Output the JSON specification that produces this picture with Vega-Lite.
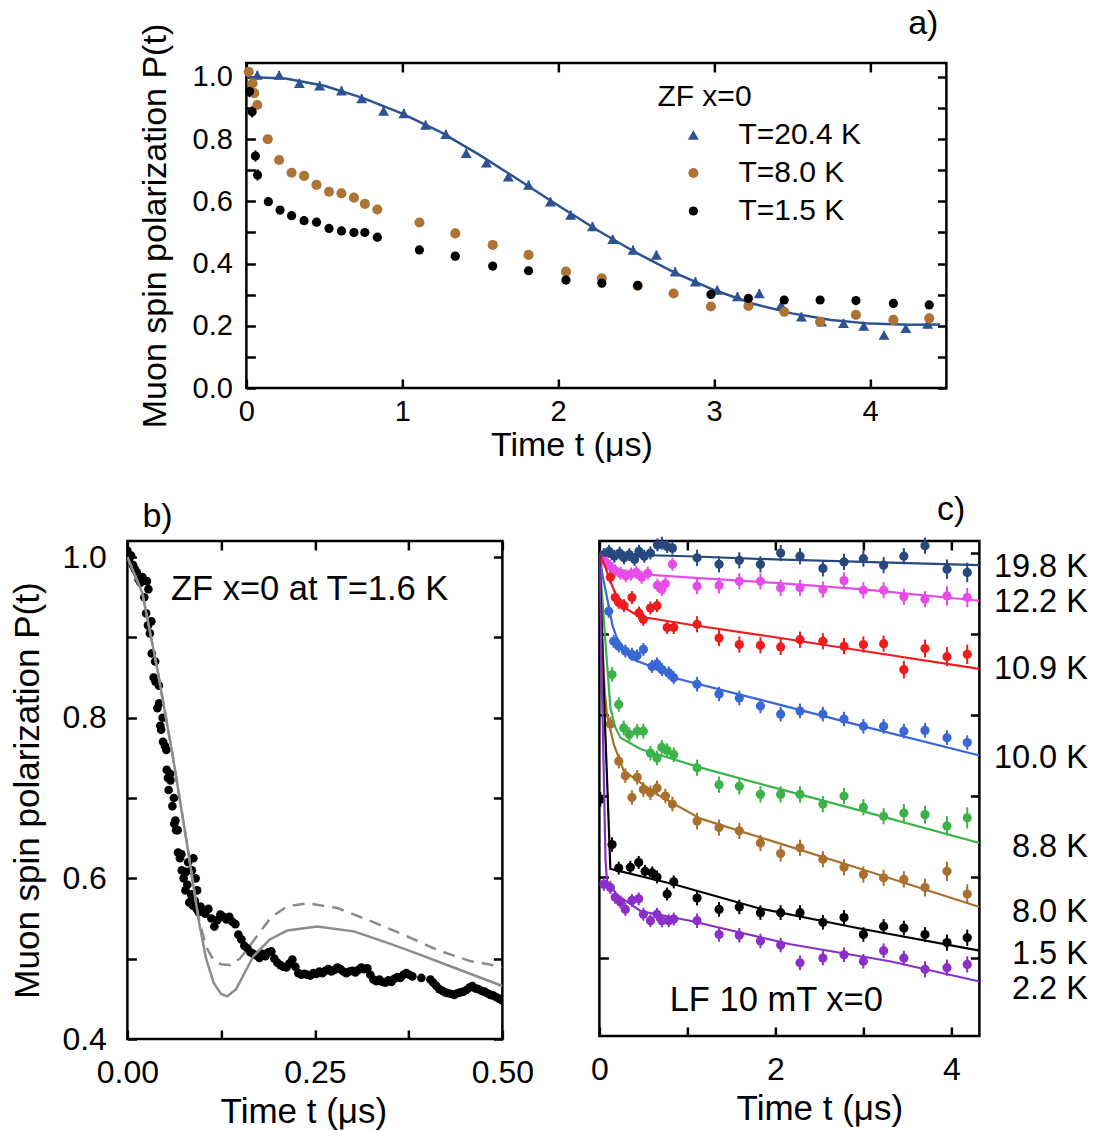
{
  "$schema": "https://vega.github.io/schema/vega-lite/v6.json",
  "autosize": {"type": "pad"},
  "padding": {"left": 9, "top": 6, "right": 4, "bottom": 2},
  "background": "white",
  "datasets": {
    "a_pts": [
      {"series": "T=20.4 K", "t": 0.07, "P": 1.006, "err": 0.014},
      {"series": "T=20.4 K", "t": 0.21, "P": 1.006, "err": 0.014},
      {"series": "T=20.4 K", "t": 0.34, "P": 0.98, "err": 0.014},
      {"series": "T=20.4 K", "t": 0.47, "P": 0.972, "err": 0.014},
      {"series": "T=20.4 K", "t": 0.61, "P": 0.956, "err": 0.014},
      {"series": "T=20.4 K", "t": 0.74, "P": 0.931, "err": 0.014},
      {"series": "T=20.4 K", "t": 0.88, "P": 0.891, "err": 0.014},
      {"series": "T=20.4 K", "t": 1.01, "P": 0.883, "err": 0.014},
      {"series": "T=20.4 K", "t": 1.15, "P": 0.846, "err": 0.014},
      {"series": "T=20.4 K", "t": 1.28, "P": 0.816, "err": 0.014},
      {"series": "T=20.4 K", "t": 1.41, "P": 0.755, "err": 0.014},
      {"series": "T=20.4 K", "t": 1.54, "P": 0.724, "err": 0.014},
      {"series": "T=20.4 K", "t": 1.68, "P": 0.679, "err": 0.014},
      {"series": "T=20.4 K", "t": 1.81, "P": 0.653, "err": 0.014},
      {"series": "T=20.4 K", "t": 1.95, "P": 0.599, "err": 0.014},
      {"series": "T=20.4 K", "t": 2.08, "P": 0.556, "err": 0.014},
      {"series": "T=20.4 K", "t": 2.22, "P": 0.519, "err": 0.014},
      {"series": "T=20.4 K", "t": 2.35, "P": 0.478, "err": 0.014},
      {"series": "T=20.4 K", "t": 2.48, "P": 0.444, "err": 0.014},
      {"series": "T=20.4 K", "t": 2.63, "P": 0.428, "err": 0.014},
      {"series": "T=20.4 K", "t": 2.75, "P": 0.374, "err": 0.014},
      {"series": "T=20.4 K", "t": 2.88, "P": 0.342, "err": 0.014},
      {"series": "T=20.4 K", "t": 3.02, "P": 0.315, "err": 0.014},
      {"series": "T=20.4 K", "t": 3.15, "P": 0.294, "err": 0.014},
      {"series": "T=20.4 K", "t": 3.29, "P": 0.304, "err": 0.014},
      {"series": "T=20.4 K", "t": 3.43, "P": 0.267, "err": 0.014},
      {"series": "T=20.4 K", "t": 3.56, "P": 0.229, "err": 0.014},
      {"series": "T=20.4 K", "t": 3.69, "P": 0.213, "err": 0.014},
      {"series": "T=20.4 K", "t": 3.83, "P": 0.208, "err": 0.014},
      {"series": "T=20.4 K", "t": 3.96, "P": 0.199, "err": 0.014},
      {"series": "T=20.4 K", "t": 4.09, "P": 0.17, "err": 0.014},
      {"series": "T=20.4 K", "t": 4.23, "P": 0.192, "err": 0.014},
      {"series": "T=20.4 K", "t": 4.37, "P": 0.206, "err": 0.014},
      {"series": "T=8.0 K", "t": 0.015, "P": 1.017, "err": 0.015},
      {"series": "T=8.0 K", "t": 0.04, "P": 0.98, "err": 0.015},
      {"series": "T=8.0 K", "t": 0.05, "P": 0.948, "err": 0.015},
      {"series": "T=8.0 K", "t": 0.07, "P": 0.91, "err": 0.015},
      {"series": "T=8.0 K", "t": 0.137, "P": 0.8, "err": 0.013},
      {"series": "T=8.0 K", "t": 0.21, "P": 0.733, "err": 0.013},
      {"series": "T=8.0 K", "t": 0.29, "P": 0.692, "err": 0.013},
      {"series": "T=8.0 K", "t": 0.37, "P": 0.682, "err": 0.013},
      {"series": "T=8.0 K", "t": 0.45, "P": 0.653, "err": 0.013},
      {"series": "T=8.0 K", "t": 0.53, "P": 0.631, "err": 0.013},
      {"series": "T=8.0 K", "t": 0.61, "P": 0.626, "err": 0.013},
      {"series": "T=8.0 K", "t": 0.69, "P": 0.612, "err": 0.013},
      {"series": "T=8.0 K", "t": 0.76, "P": 0.592, "err": 0.013},
      {"series": "T=8.0 K", "t": 0.84, "P": 0.574, "err": 0.013},
      {"series": "T=8.0 K", "t": 1.11, "P": 0.532, "err": 0.013},
      {"series": "T=8.0 K", "t": 1.34, "P": 0.497, "err": 0.013},
      {"series": "T=8.0 K", "t": 1.58, "P": 0.46, "err": 0.013},
      {"series": "T=8.0 K", "t": 1.81, "P": 0.428, "err": 0.013},
      {"series": "T=8.0 K", "t": 2.05, "P": 0.374, "err": 0.013},
      {"series": "T=8.0 K", "t": 2.28, "P": 0.353, "err": 0.013},
      {"series": "T=8.0 K", "t": 2.51, "P": 0.328, "err": 0.013},
      {"series": "T=8.0 K", "t": 2.74, "P": 0.304, "err": 0.013},
      {"series": "T=8.0 K", "t": 2.98, "P": 0.262, "err": 0.013},
      {"series": "T=8.0 K", "t": 3.22, "P": 0.264, "err": 0.013},
      {"series": "T=8.0 K", "t": 3.45, "P": 0.245, "err": 0.013},
      {"series": "T=8.0 K", "t": 3.68, "P": 0.213, "err": 0.013},
      {"series": "T=8.0 K", "t": 3.91, "P": 0.235, "err": 0.013},
      {"series": "T=8.0 K", "t": 4.15, "P": 0.219, "err": 0.013},
      {"series": "T=8.0 K", "t": 4.38, "P": 0.224, "err": 0.013},
      {"series": "T=1.5 K", "t": 0.02, "P": 0.953, "err": 0.018},
      {"series": "T=1.5 K", "t": 0.037, "P": 0.888, "err": 0.018},
      {"series": "T=1.5 K", "t": 0.058, "P": 0.746, "err": 0.018},
      {"series": "T=1.5 K", "t": 0.072, "P": 0.685, "err": 0.018},
      {"series": "T=1.5 K", "t": 0.141, "P": 0.599, "err": 0.013},
      {"series": "T=1.5 K", "t": 0.216, "P": 0.572, "err": 0.013},
      {"series": "T=1.5 K", "t": 0.29, "P": 0.554, "err": 0.013},
      {"series": "T=1.5 K", "t": 0.37, "P": 0.538, "err": 0.013},
      {"series": "T=1.5 K", "t": 0.45, "P": 0.533, "err": 0.013},
      {"series": "T=1.5 K", "t": 0.53, "P": 0.513, "err": 0.013},
      {"series": "T=1.5 K", "t": 0.61, "P": 0.505, "err": 0.013},
      {"series": "T=1.5 K", "t": 0.69, "P": 0.5, "err": 0.013},
      {"series": "T=1.5 K", "t": 0.76, "P": 0.5, "err": 0.013},
      {"series": "T=1.5 K", "t": 0.84, "P": 0.485, "err": 0.013},
      {"series": "T=1.5 K", "t": 1.11, "P": 0.444, "err": 0.013},
      {"series": "T=1.5 K", "t": 1.34, "P": 0.424, "err": 0.013},
      {"series": "T=1.5 K", "t": 1.58, "P": 0.392, "err": 0.013},
      {"series": "T=1.5 K", "t": 1.81, "P": 0.377, "err": 0.013},
      {"series": "T=1.5 K", "t": 2.05, "P": 0.347, "err": 0.013},
      {"series": "T=1.5 K", "t": 2.28, "P": 0.337, "err": 0.013},
      {"series": "T=1.5 K", "t": 2.51, "P": 0.33, "err": 0.013},
      {"series": "T=1.5 K", "t": 2.98, "P": 0.301, "err": 0.013},
      {"series": "T=1.5 K", "t": 3.22, "P": 0.288, "err": 0.013},
      {"series": "T=1.5 K", "t": 3.45, "P": 0.283, "err": 0.013},
      {"series": "T=1.5 K", "t": 3.68, "P": 0.283, "err": 0.013},
      {"series": "T=1.5 K", "t": 3.91, "P": 0.281, "err": 0.013},
      {"series": "T=1.5 K", "t": 4.15, "P": 0.272, "err": 0.013},
      {"series": "T=1.5 K", "t": 4.38, "P": 0.267, "err": 0.013}
    ],
    "a_fit": [
      {"t": 0, "P": 1.0}, {"t": 0.25, "P": 0.995}, {"t": 0.5, "P": 0.972}, {"t": 0.75, "P": 0.932},
      {"t": 1.0, "P": 0.882}, {"t": 1.25, "P": 0.822}, {"t": 1.5, "P": 0.748}, {"t": 1.75, "P": 0.668},
      {"t": 2.0, "P": 0.587}, {"t": 2.25, "P": 0.508}, {"t": 2.5, "P": 0.435}, {"t": 2.75, "P": 0.37},
      {"t": 3.0, "P": 0.315}, {"t": 3.25, "P": 0.271}, {"t": 3.5, "P": 0.24}, {"t": 3.75, "P": 0.219},
      {"t": 4.0, "P": 0.207}, {"t": 4.25, "P": 0.203}, {"t": 4.45, "P": 0.204}
    ],
    "b_pts": [
      {"t": 0.0, "P": 1.008}, {"t": 0.0025, "P": 0.998}, {"t": 0.005, "P": 1.002}, {"t": 0.0075, "P": 0.99},
      {"t": 0.01, "P": 0.985}, {"t": 0.0125, "P": 0.981}, {"t": 0.015, "P": 0.972}, {"t": 0.0175, "P": 0.968},
      {"t": 0.02, "P": 0.975}, {"t": 0.0225, "P": 0.95}, {"t": 0.025, "P": 0.93}, {"t": 0.026, "P": 0.97},
      {"t": 0.0275, "P": 0.915}, {"t": 0.028, "P": 0.96}, {"t": 0.03, "P": 0.905}, {"t": 0.032, "P": 0.92},
      {"t": 0.0325, "P": 0.88}, {"t": 0.035, "P": 0.85}, {"t": 0.037, "P": 0.87}, {"t": 0.0375, "P": 0.845},
      {"t": 0.04, "P": 0.812}, {"t": 0.042, "P": 0.84}, {"t": 0.0425, "P": 0.818}, {"t": 0.044, "P": 0.79},
      {"t": 0.045, "P": 0.785}, {"t": 0.047, "P": 0.8}, {"t": 0.0475, "P": 0.77}, {"t": 0.05, "P": 0.765},
      {"t": 0.052, "P": 0.76}, {"t": 0.0525, "P": 0.735}, {"t": 0.054, "P": 0.725}, {"t": 0.055, "P": 0.71},
      {"t": 0.057, "P": 0.73}, {"t": 0.0575, "P": 0.722}, {"t": 0.06, "P": 0.69}, {"t": 0.062, "P": 0.7},
      {"t": 0.0625, "P": 0.668}, {"t": 0.064, "P": 0.672}, {"t": 0.065, "P": 0.66}, {"t": 0.067, "P": 0.66},
      {"t": 0.0675, "P": 0.632}, {"t": 0.07, "P": 0.625}, {"t": 0.072, "P": 0.63}, {"t": 0.0725, "P": 0.61},
      {"t": 0.075, "P": 0.6}, {"t": 0.0775, "P": 0.585}, {"t": 0.078, "P": 0.608}, {"t": 0.08, "P": 0.592},
      {"t": 0.081, "P": 0.62}, {"t": 0.0825, "P": 0.57}, {"t": 0.085, "P": 0.58}, {"t": 0.086, "P": 0.61},
      {"t": 0.0875, "P": 0.566}, {"t": 0.088, "P": 0.625}, {"t": 0.09, "P": 0.572}, {"t": 0.091, "P": 0.6},
      {"t": 0.0925, "P": 0.562}, {"t": 0.093, "P": 0.585}, {"t": 0.095, "P": 0.558}, {"t": 0.0975, "P": 0.565},
      {"t": 0.1, "P": 0.56}, {"t": 0.104, "P": 0.556}, {"t": 0.108, "P": 0.562}, {"t": 0.112, "P": 0.55},
      {"t": 0.116, "P": 0.54}, {"t": 0.12, "P": 0.548}, {"t": 0.124, "P": 0.555}, {"t": 0.128, "P": 0.552},
      {"t": 0.132, "P": 0.549}, {"t": 0.136, "P": 0.552}, {"t": 0.14, "P": 0.546}, {"t": 0.144, "P": 0.543},
      {"t": 0.148, "P": 0.53}, {"t": 0.152, "P": 0.524}, {"t": 0.156, "P": 0.516}, {"t": 0.16, "P": 0.513},
      {"t": 0.164, "P": 0.508}, {"t": 0.168, "P": 0.506}, {"t": 0.172, "P": 0.504}, {"t": 0.176, "P": 0.501},
      {"t": 0.18, "P": 0.506}, {"t": 0.184, "P": 0.503}, {"t": 0.188, "P": 0.508}, {"t": 0.192, "P": 0.509},
      {"t": 0.196, "P": 0.5}, {"t": 0.2, "P": 0.495}, {"t": 0.204, "P": 0.492}, {"t": 0.208, "P": 0.49},
      {"t": 0.212, "P": 0.489}, {"t": 0.216, "P": 0.494}, {"t": 0.22, "P": 0.499}, {"t": 0.224, "P": 0.49},
      {"t": 0.228, "P": 0.482}, {"t": 0.232, "P": 0.48}, {"t": 0.236, "P": 0.481}, {"t": 0.24, "P": 0.48},
      {"t": 0.244, "P": 0.479}, {"t": 0.248, "P": 0.482}, {"t": 0.252, "P": 0.481}, {"t": 0.256, "P": 0.484},
      {"t": 0.26, "P": 0.482}, {"t": 0.264, "P": 0.485}, {"t": 0.268, "P": 0.487}, {"t": 0.272, "P": 0.484},
      {"t": 0.276, "P": 0.486}, {"t": 0.28, "P": 0.489}, {"t": 0.284, "P": 0.487}, {"t": 0.288, "P": 0.484},
      {"t": 0.292, "P": 0.482}, {"t": 0.296, "P": 0.484}, {"t": 0.3, "P": 0.485}, {"t": 0.304, "P": 0.483},
      {"t": 0.308, "P": 0.486}, {"t": 0.312, "P": 0.489}, {"t": 0.316, "P": 0.487}, {"t": 0.32, "P": 0.488},
      {"t": 0.324, "P": 0.48}, {"t": 0.328, "P": 0.474}, {"t": 0.332, "P": 0.472}, {"t": 0.336, "P": 0.474},
      {"t": 0.34, "P": 0.471}, {"t": 0.344, "P": 0.47}, {"t": 0.348, "P": 0.473}, {"t": 0.352, "P": 0.471},
      {"t": 0.356, "P": 0.475}, {"t": 0.36, "P": 0.477}, {"t": 0.364, "P": 0.476}, {"t": 0.368, "P": 0.48},
      {"t": 0.372, "P": 0.482}, {"t": 0.376, "P": 0.48}, {"t": 0.38, "P": 0.478}, {"t": 0.392, "P": 0.476},
      {"t": 0.404, "P": 0.474}, {"t": 0.408, "P": 0.47}, {"t": 0.412, "P": 0.466}, {"t": 0.416, "P": 0.462},
      {"t": 0.42, "P": 0.46}, {"t": 0.424, "P": 0.458}, {"t": 0.428, "P": 0.457}, {"t": 0.432, "P": 0.456},
      {"t": 0.436, "P": 0.455}, {"t": 0.44, "P": 0.457}, {"t": 0.444, "P": 0.458}, {"t": 0.448, "P": 0.459},
      {"t": 0.452, "P": 0.461}, {"t": 0.456, "P": 0.464}, {"t": 0.46, "P": 0.466}, {"t": 0.464, "P": 0.463},
      {"t": 0.468, "P": 0.462}, {"t": 0.472, "P": 0.46}, {"t": 0.476, "P": 0.459}, {"t": 0.48, "P": 0.457},
      {"t": 0.484, "P": 0.455}, {"t": 0.488, "P": 0.454}, {"t": 0.492, "P": 0.452}, {"t": 0.496, "P": 0.45},
      {"t": 0.5, "P": 0.448}
    ],
    "b_fit": [
      {"model": "solid", "t": 0, "P": 1.0}, {"model": "solid", "t": 0.02, "P": 0.955},
      {"model": "solid", "t": 0.04, "P": 0.86}, {"model": "solid", "t": 0.06, "P": 0.755},
      {"model": "solid", "t": 0.08, "P": 0.64}, {"model": "solid", "t": 0.095, "P": 0.548},
      {"model": "solid", "t": 0.105, "P": 0.5}, {"model": "solid", "t": 0.115, "P": 0.47},
      {"model": "solid", "t": 0.125, "P": 0.456}, {"model": "solid", "t": 0.133, "P": 0.453},
      {"model": "solid", "t": 0.145, "P": 0.462}, {"model": "solid", "t": 0.155, "P": 0.48},
      {"model": "solid", "t": 0.168, "P": 0.503}, {"model": "solid", "t": 0.19, "P": 0.524},
      {"model": "solid", "t": 0.213, "P": 0.535}, {"model": "solid", "t": 0.253, "P": 0.54},
      {"model": "solid", "t": 0.302, "P": 0.534}, {"model": "solid", "t": 0.346, "P": 0.52},
      {"model": "solid", "t": 0.39, "P": 0.505}, {"model": "solid", "t": 0.435, "P": 0.489},
      {"model": "solid", "t": 0.5, "P": 0.466},
      {"model": "dashed", "t": 0, "P": 1.0}, {"model": "dashed", "t": 0.02, "P": 0.955},
      {"model": "dashed", "t": 0.04, "P": 0.86}, {"model": "dashed", "t": 0.06, "P": 0.755},
      {"model": "dashed", "t": 0.08, "P": 0.64}, {"model": "dashed", "t": 0.095, "P": 0.55},
      {"model": "dashed", "t": 0.105, "P": 0.515}, {"model": "dashed", "t": 0.115, "P": 0.498},
      {"model": "dashed", "t": 0.125, "P": 0.493}, {"model": "dashed", "t": 0.137, "P": 0.492},
      {"model": "dashed", "t": 0.15, "P": 0.5}, {"model": "dashed", "t": 0.168, "P": 0.522},
      {"model": "dashed", "t": 0.191, "P": 0.551}, {"model": "dashed", "t": 0.213, "P": 0.565},
      {"model": "dashed", "t": 0.24, "P": 0.569}, {"model": "dashed", "t": 0.28, "P": 0.563},
      {"model": "dashed", "t": 0.324, "P": 0.547}, {"model": "dashed", "t": 0.368, "P": 0.53},
      {"model": "dashed", "t": 0.413, "P": 0.511}, {"model": "dashed", "t": 0.457, "P": 0.497},
      {"model": "dashed", "t": 0.5, "P": 0.49}
    ],
    "b_note": [{"t": 0.243, "P": 0.959, "label": "ZF x=0 at T=1.6 K"}],
    "c_note": [{"t": 2.01, "P": 0.447, "label": "LF 10 mT x=0"}],
    "c_pts": [
      {"T": "19.8 K", "t": 0.05, "P": 0.998, "err": 0.008}, {"T": "19.8 K", "t": 0.11, "P": 1.002, "err": 0.008},
      {"T": "19.8 K", "t": 0.17, "P": 0.996, "err": 0.008}, {"T": "19.8 K", "t": 0.23, "P": 1.0, "err": 0.008},
      {"T": "19.8 K", "t": 0.28, "P": 0.994, "err": 0.008}, {"T": "19.8 K", "t": 0.34, "P": 0.998, "err": 0.008},
      {"T": "19.8 K", "t": 0.4, "P": 0.992, "err": 0.008}, {"T": "19.8 K", "t": 0.45, "P": 1.002, "err": 0.008},
      {"T": "19.8 K", "t": 0.51, "P": 0.996, "err": 0.008}, {"T": "19.8 K", "t": 0.58, "P": 1.0, "err": 0.008},
      {"T": "19.8 K", "t": 0.66, "P": 1.01, "err": 0.008}, {"T": "19.8 K", "t": 0.71, "P": 1.012, "err": 0.008},
      {"T": "19.8 K", "t": 0.77, "P": 1.008, "err": 0.008}, {"T": "19.8 K", "t": 0.83, "P": 1.006, "err": 0.008},
      {"T": "19.8 K", "t": 1.11, "P": 0.994, "err": 0.01}, {"T": "19.8 K", "t": 1.36, "P": 0.986, "err": 0.01},
      {"T": "19.8 K", "t": 1.59, "P": 0.991, "err": 0.01}, {"T": "19.8 K", "t": 1.83, "P": 0.986, "err": 0.01},
      {"T": "19.8 K", "t": 2.06, "P": 1.0, "err": 0.01}, {"T": "19.8 K", "t": 2.28, "P": 0.996, "err": 0.01},
      {"T": "19.8 K", "t": 2.54, "P": 0.981, "err": 0.01}, {"T": "19.8 K", "t": 2.78, "P": 0.989, "err": 0.01},
      {"T": "19.8 K", "t": 3.0, "P": 0.993, "err": 0.01}, {"T": "19.8 K", "t": 3.23, "P": 0.985, "err": 0.01},
      {"T": "19.8 K", "t": 3.46, "P": 0.996, "err": 0.01}, {"T": "19.8 K", "t": 3.7, "P": 1.009, "err": 0.01},
      {"T": "19.8 K", "t": 3.95, "P": 0.98, "err": 0.012}, {"T": "19.8 K", "t": 4.18, "P": 0.976, "err": 0.012},
      {"T": "12.2 K", "t": 0.06, "P": 0.99, "err": 0.008}, {"T": "12.2 K", "t": 0.12, "P": 0.984, "err": 0.008},
      {"T": "12.2 K", "t": 0.18, "P": 0.978, "err": 0.008}, {"T": "12.2 K", "t": 0.24, "P": 0.975, "err": 0.008},
      {"T": "12.2 K", "t": 0.3, "P": 0.972, "err": 0.008}, {"T": "12.2 K", "t": 0.36, "P": 0.974, "err": 0.008},
      {"T": "12.2 K", "t": 0.42, "P": 0.976, "err": 0.008}, {"T": "12.2 K", "t": 0.48, "P": 0.97, "err": 0.008},
      {"T": "12.2 K", "t": 0.55, "P": 0.975, "err": 0.008}, {"T": "12.2 K", "t": 0.66, "P": 0.96, "err": 0.008},
      {"T": "12.2 K", "t": 0.71, "P": 0.955, "err": 0.008}, {"T": "12.2 K", "t": 0.75, "P": 0.962, "err": 0.008},
      {"T": "12.2 K", "t": 0.83, "P": 0.986, "err": 0.008}, {"T": "12.2 K", "t": 1.11, "P": 0.959, "err": 0.01},
      {"T": "12.2 K", "t": 1.36, "P": 0.96, "err": 0.01}, {"T": "12.2 K", "t": 1.59, "P": 0.965, "err": 0.01},
      {"T": "12.2 K", "t": 1.83, "P": 0.965, "err": 0.01}, {"T": "12.2 K", "t": 2.06, "P": 0.957, "err": 0.01},
      {"T": "12.2 K", "t": 2.28, "P": 0.957, "err": 0.01}, {"T": "12.2 K", "t": 2.54, "P": 0.955, "err": 0.01},
      {"T": "12.2 K", "t": 2.78, "P": 0.966, "err": 0.01}, {"T": "12.2 K", "t": 3.0, "P": 0.954, "err": 0.01},
      {"T": "12.2 K", "t": 3.23, "P": 0.954, "err": 0.01}, {"T": "12.2 K", "t": 3.46, "P": 0.946, "err": 0.01},
      {"T": "12.2 K", "t": 3.7, "P": 0.943, "err": 0.01}, {"T": "12.2 K", "t": 3.95, "P": 0.947, "err": 0.012},
      {"T": "12.2 K", "t": 4.18, "P": 0.945, "err": 0.012},
      {"T": "10.9 K", "t": 0.125, "P": 0.97, "err": 0.008}, {"T": "10.9 K", "t": 0.18, "P": 0.945, "err": 0.008},
      {"T": "10.9 K", "t": 0.22, "P": 0.939, "err": 0.008}, {"T": "10.9 K", "t": 0.28, "P": 0.935, "err": 0.008},
      {"T": "10.9 K", "t": 0.37, "P": 0.945, "err": 0.008}, {"T": "10.9 K", "t": 0.45, "P": 0.926, "err": 0.008},
      {"T": "10.9 K", "t": 0.5, "P": 0.918, "err": 0.008}, {"T": "10.9 K", "t": 0.58, "P": 0.932, "err": 0.008},
      {"T": "10.9 K", "t": 0.655, "P": 0.935, "err": 0.008}, {"T": "10.9 K", "t": 0.77, "P": 0.908, "err": 0.008},
      {"T": "10.9 K", "t": 0.845, "P": 0.908, "err": 0.008}, {"T": "10.9 K", "t": 1.11, "P": 0.912, "err": 0.01},
      {"T": "10.9 K", "t": 1.36, "P": 0.895, "err": 0.01}, {"T": "10.9 K", "t": 1.59, "P": 0.887, "err": 0.01},
      {"T": "10.9 K", "t": 1.83, "P": 0.886, "err": 0.01}, {"T": "10.9 K", "t": 2.06, "P": 0.884, "err": 0.01},
      {"T": "10.9 K", "t": 2.28, "P": 0.893, "err": 0.01}, {"T": "10.9 K", "t": 2.54, "P": 0.891, "err": 0.01},
      {"T": "10.9 K", "t": 2.78, "P": 0.885, "err": 0.01}, {"T": "10.9 K", "t": 3.0, "P": 0.887, "err": 0.01},
      {"T": "10.9 K", "t": 3.23, "P": 0.888, "err": 0.01}, {"T": "10.9 K", "t": 3.46, "P": 0.856, "err": 0.011},
      {"T": "10.9 K", "t": 3.7, "P": 0.882, "err": 0.011}, {"T": "10.9 K", "t": 3.95, "P": 0.872, "err": 0.012},
      {"T": "10.9 K", "t": 4.18, "P": 0.875, "err": 0.012},
      {"T": "10.0 K", "t": 0.106, "P": 0.928, "err": 0.008}, {"T": "10.0 K", "t": 0.163, "P": 0.891, "err": 0.008},
      {"T": "10.0 K", "t": 0.22, "P": 0.885, "err": 0.008}, {"T": "10.0 K", "t": 0.295, "P": 0.879, "err": 0.008},
      {"T": "10.0 K", "t": 0.37, "P": 0.875, "err": 0.008}, {"T": "10.0 K", "t": 0.428, "P": 0.873, "err": 0.008},
      {"T": "10.0 K", "t": 0.5, "P": 0.881, "err": 0.008}, {"T": "10.0 K", "t": 0.598, "P": 0.86, "err": 0.008},
      {"T": "10.0 K", "t": 0.655, "P": 0.863, "err": 0.008}, {"T": "10.0 K", "t": 0.712, "P": 0.856, "err": 0.008},
      {"T": "10.0 K", "t": 0.788, "P": 0.852, "err": 0.008}, {"T": "10.0 K", "t": 0.845, "P": 0.846, "err": 0.008},
      {"T": "10.0 K", "t": 1.11, "P": 0.838, "err": 0.009}, {"T": "10.0 K", "t": 1.36, "P": 0.826, "err": 0.009},
      {"T": "10.0 K", "t": 1.59, "P": 0.821, "err": 0.009}, {"T": "10.0 K", "t": 1.83, "P": 0.811, "err": 0.009},
      {"T": "10.0 K", "t": 2.06, "P": 0.801, "err": 0.009}, {"T": "10.0 K", "t": 2.28, "P": 0.805, "err": 0.009},
      {"T": "10.0 K", "t": 2.54, "P": 0.801, "err": 0.009}, {"T": "10.0 K", "t": 2.78, "P": 0.795, "err": 0.009},
      {"T": "10.0 K", "t": 3.0, "P": 0.786, "err": 0.009}, {"T": "10.0 K", "t": 3.23, "P": 0.786, "err": 0.009},
      {"T": "10.0 K", "t": 3.46, "P": 0.78, "err": 0.009}, {"T": "10.0 K", "t": 3.7, "P": 0.781, "err": 0.009},
      {"T": "10.0 K", "t": 3.95, "P": 0.772, "err": 0.009}, {"T": "10.0 K", "t": 4.18, "P": 0.766, "err": 0.009},
      {"T": "8.8 K", "t": 0.144, "P": 0.85, "err": 0.009}, {"T": "8.8 K", "t": 0.22, "P": 0.813, "err": 0.009},
      {"T": "8.8 K", "t": 0.277, "P": 0.784, "err": 0.009}, {"T": "8.8 K", "t": 0.34, "P": 0.776, "err": 0.009},
      {"T": "8.8 K", "t": 0.43, "P": 0.78, "err": 0.009}, {"T": "8.8 K", "t": 0.5, "P": 0.78, "err": 0.009},
      {"T": "8.8 K", "t": 0.58, "P": 0.753, "err": 0.009}, {"T": "8.8 K", "t": 0.655, "P": 0.747, "err": 0.009},
      {"T": "8.8 K", "t": 0.71, "P": 0.76, "err": 0.009}, {"T": "8.8 K", "t": 0.77, "P": 0.756, "err": 0.009},
      {"T": "8.8 K", "t": 0.845, "P": 0.751, "err": 0.009}, {"T": "8.8 K", "t": 1.11, "P": 0.735, "err": 0.01},
      {"T": "8.8 K", "t": 1.36, "P": 0.714, "err": 0.01}, {"T": "8.8 K", "t": 1.59, "P": 0.712, "err": 0.01},
      {"T": "8.8 K", "t": 1.83, "P": 0.702, "err": 0.01}, {"T": "8.8 K", "t": 2.06, "P": 0.702, "err": 0.01},
      {"T": "8.8 K", "t": 2.28, "P": 0.702, "err": 0.01}, {"T": "8.8 K", "t": 2.54, "P": 0.69, "err": 0.01},
      {"T": "8.8 K", "t": 2.78, "P": 0.7, "err": 0.01}, {"T": "8.8 K", "t": 3.0, "P": 0.686, "err": 0.01},
      {"T": "8.8 K", "t": 3.23, "P": 0.675, "err": 0.01}, {"T": "8.8 K", "t": 3.46, "P": 0.679, "err": 0.011},
      {"T": "8.8 K", "t": 3.7, "P": 0.677, "err": 0.011}, {"T": "8.8 K", "t": 3.95, "P": 0.663, "err": 0.012},
      {"T": "8.8 K", "t": 4.18, "P": 0.673, "err": 0.013},
      {"T": "8.0 K", "t": 0.125, "P": 0.789, "err": 0.009}, {"T": "8.0 K", "t": 0.22, "P": 0.743, "err": 0.009},
      {"T": "8.0 K", "t": 0.295, "P": 0.725, "err": 0.009}, {"T": "8.0 K", "t": 0.37, "P": 0.698, "err": 0.009},
      {"T": "8.0 K", "t": 0.43, "P": 0.723, "err": 0.009}, {"T": "8.0 K", "t": 0.5, "P": 0.708, "err": 0.009},
      {"T": "8.0 K", "t": 0.58, "P": 0.704, "err": 0.009}, {"T": "8.0 K", "t": 0.655, "P": 0.71, "err": 0.009},
      {"T": "8.0 K", "t": 0.75, "P": 0.7, "err": 0.009}, {"T": "8.0 K", "t": 0.83, "P": 0.69, "err": 0.009},
      {"T": "8.0 K", "t": 1.11, "P": 0.669, "err": 0.01}, {"T": "8.0 K", "t": 1.36, "P": 0.661, "err": 0.01},
      {"T": "8.0 K", "t": 1.59, "P": 0.657, "err": 0.01}, {"T": "8.0 K", "t": 1.83, "P": 0.642, "err": 0.01},
      {"T": "8.0 K", "t": 2.06, "P": 0.629, "err": 0.01}, {"T": "8.0 K", "t": 2.28, "P": 0.636, "err": 0.01},
      {"T": "8.0 K", "t": 2.54, "P": 0.622, "err": 0.01}, {"T": "8.0 K", "t": 2.78, "P": 0.612, "err": 0.01},
      {"T": "8.0 K", "t": 3.0, "P": 0.603, "err": 0.01}, {"T": "8.0 K", "t": 3.23, "P": 0.599, "err": 0.01},
      {"T": "8.0 K", "t": 3.46, "P": 0.597, "err": 0.01}, {"T": "8.0 K", "t": 3.7, "P": 0.587, "err": 0.011},
      {"T": "8.0 K", "t": 3.95, "P": 0.607, "err": 0.012}, {"T": "8.0 K", "t": 4.18, "P": 0.579, "err": 0.012},
      {"T": "1.5 K", "t": 0.011, "P": 0.696, "err": 0.009}, {"T": "1.5 K", "t": 0.144, "P": 0.64, "err": 0.009},
      {"T": "1.5 K", "t": 0.22, "P": 0.611, "err": 0.008}, {"T": "1.5 K", "t": 0.352, "P": 0.612, "err": 0.008},
      {"T": "1.5 K", "t": 0.447, "P": 0.618, "err": 0.008}, {"T": "1.5 K", "t": 0.52, "P": 0.607, "err": 0.008},
      {"T": "1.5 K", "t": 0.6, "P": 0.605, "err": 0.008}, {"T": "1.5 K", "t": 0.655, "P": 0.6, "err": 0.008},
      {"T": "1.5 K", "t": 0.77, "P": 0.579, "err": 0.008}, {"T": "1.5 K", "t": 0.845, "P": 0.594, "err": 0.008},
      {"T": "1.5 K", "t": 1.11, "P": 0.574, "err": 0.009}, {"T": "1.5 K", "t": 1.36, "P": 0.56, "err": 0.009},
      {"T": "1.5 K", "t": 1.59, "P": 0.563, "err": 0.009}, {"T": "1.5 K", "t": 1.83, "P": 0.556, "err": 0.009},
      {"T": "1.5 K", "t": 2.06, "P": 0.556, "err": 0.009}, {"T": "1.5 K", "t": 2.28, "P": 0.556, "err": 0.009},
      {"T": "1.5 K", "t": 2.54, "P": 0.544, "err": 0.009}, {"T": "1.5 K", "t": 2.78, "P": 0.55, "err": 0.009},
      {"T": "1.5 K", "t": 3.0, "P": 0.529, "err": 0.009}, {"T": "1.5 K", "t": 3.23, "P": 0.539, "err": 0.009},
      {"T": "1.5 K", "t": 3.46, "P": 0.537, "err": 0.009}, {"T": "1.5 K", "t": 3.7, "P": 0.529, "err": 0.009},
      {"T": "1.5 K", "t": 3.95, "P": 0.519, "err": 0.01}, {"T": "1.5 K", "t": 4.18, "P": 0.525, "err": 0.01},
      {"T": "2.2 K", "t": 0.05, "P": 0.591, "err": 0.008}, {"T": "2.2 K", "t": 0.125, "P": 0.587, "err": 0.008},
      {"T": "2.2 K", "t": 0.18, "P": 0.575, "err": 0.008}, {"T": "2.2 K", "t": 0.24, "P": 0.569, "err": 0.008},
      {"T": "2.2 K", "t": 0.295, "P": 0.56, "err": 0.008}, {"T": "2.2 K", "t": 0.37, "P": 0.571, "err": 0.008},
      {"T": "2.2 K", "t": 0.447, "P": 0.573, "err": 0.008}, {"T": "2.2 K", "t": 0.5, "P": 0.554, "err": 0.008},
      {"T": "2.2 K", "t": 0.58, "P": 0.546, "err": 0.008}, {"T": "2.2 K", "t": 0.655, "P": 0.554, "err": 0.008},
      {"T": "2.2 K", "t": 0.71, "P": 0.546, "err": 0.008}, {"T": "2.2 K", "t": 0.788, "P": 0.546, "err": 0.008},
      {"T": "2.2 K", "t": 0.845, "P": 0.548, "err": 0.008}, {"T": "2.2 K", "t": 1.11, "P": 0.546, "err": 0.009},
      {"T": "2.2 K", "t": 1.36, "P": 0.529, "err": 0.009}, {"T": "2.2 K", "t": 1.59, "P": 0.528, "err": 0.009},
      {"T": "2.2 K", "t": 1.83, "P": 0.521, "err": 0.009}, {"T": "2.2 K", "t": 2.06, "P": 0.516, "err": 0.009},
      {"T": "2.2 K", "t": 2.28, "P": 0.494, "err": 0.009}, {"T": "2.2 K", "t": 2.54, "P": 0.5, "err": 0.009},
      {"T": "2.2 K", "t": 2.78, "P": 0.504, "err": 0.009}, {"T": "2.2 K", "t": 3.0, "P": 0.496, "err": 0.009},
      {"T": "2.2 K", "t": 3.23, "P": 0.509, "err": 0.009}, {"T": "2.2 K", "t": 3.46, "P": 0.5, "err": 0.009},
      {"T": "2.2 K", "t": 3.7, "P": 0.486, "err": 0.01}, {"T": "2.2 K", "t": 3.95, "P": 0.488, "err": 0.01},
      {"T": "2.2 K", "t": 4.18, "P": 0.492, "err": 0.01}
    ],
    "c_fit": [
      {"T": "19.8 K", "t": 0, "P": 0.999}, {"T": "19.8 K", "t": 1, "P": 0.996}, {"T": "19.8 K", "t": 2, "P": 0.992},
      {"T": "19.8 K", "t": 3, "P": 0.989}, {"T": "19.8 K", "t": 4.32, "P": 0.985},
      {"T": "12.2 K", "t": 0, "P": 1.0}, {"T": "12.2 K", "t": 0.05, "P": 0.99}, {"T": "12.2 K", "t": 0.15, "P": 0.982},
      {"T": "12.2 K", "t": 0.3, "P": 0.977}, {"T": "12.2 K", "t": 0.58, "P": 0.973}, {"T": "12.2 K", "t": 1, "P": 0.97},
      {"T": "12.2 K", "t": 2, "P": 0.963}, {"T": "12.2 K", "t": 3, "P": 0.955}, {"T": "12.2 K", "t": 4.32, "P": 0.941},
      {"T": "10.9 K", "t": 0, "P": 1.0}, {"T": "10.9 K", "t": 0.06, "P": 0.985}, {"T": "10.9 K", "t": 0.125, "P": 0.965},
      {"T": "10.9 K", "t": 0.2, "P": 0.945}, {"T": "10.9 K", "t": 0.277, "P": 0.933}, {"T": "10.9 K", "t": 0.4, "P": 0.925},
      {"T": "10.9 K", "t": 0.54, "P": 0.92}, {"T": "10.9 K", "t": 1, "P": 0.912}, {"T": "10.9 K", "t": 2, "P": 0.896},
      {"T": "10.9 K", "t": 3, "P": 0.879}, {"T": "10.9 K", "t": 4.32, "P": 0.857},
      {"T": "10.0 K", "t": 0, "P": 1.0}, {"T": "10.0 K", "t": 0.04, "P": 0.97}, {"T": "10.0 K", "t": 0.087, "P": 0.945},
      {"T": "10.0 K", "t": 0.15, "P": 0.91}, {"T": "10.0 K", "t": 0.2, "P": 0.895}, {"T": "10.0 K", "t": 0.35, "P": 0.87},
      {"T": "10.0 K", "t": 0.54, "P": 0.862}, {"T": "10.0 K", "t": 0.845, "P": 0.846}, {"T": "10.0 K", "t": 2, "P": 0.814},
      {"T": "10.0 K", "t": 3, "P": 0.786}, {"T": "10.0 K", "t": 4.32, "P": 0.75},
      {"T": "8.8 K", "t": 0, "P": 1.0}, {"T": "8.8 K", "t": 0.03, "P": 0.95}, {"T": "8.8 K", "t": 0.068, "P": 0.891},
      {"T": "8.8 K", "t": 0.125, "P": 0.809}, {"T": "8.8 K", "t": 0.18, "P": 0.785}, {"T": "8.8 K", "t": 0.24, "P": 0.772},
      {"T": "8.8 K", "t": 0.466, "P": 0.758}, {"T": "8.8 K", "t": 1.15, "P": 0.735}, {"T": "8.8 K", "t": 2, "P": 0.71},
      {"T": "8.8 K", "t": 3, "P": 0.681}, {"T": "8.8 K", "t": 4.32, "P": 0.642},
      {"T": "8.0 K", "t": 0, "P": 1.0}, {"T": "8.0 K", "t": 0.03, "P": 0.9}, {"T": "8.0 K", "t": 0.06, "P": 0.83},
      {"T": "8.0 K", "t": 0.087, "P": 0.8}, {"T": "8.0 K", "t": 0.163, "P": 0.764}, {"T": "8.0 K", "t": 0.277, "P": 0.731},
      {"T": "8.0 K", "t": 0.655, "P": 0.702}, {"T": "8.0 K", "t": 1.15, "P": 0.672}, {"T": "8.0 K", "t": 2, "P": 0.643},
      {"T": "8.0 K", "t": 3, "P": 0.609}, {"T": "8.0 K", "t": 4.32, "P": 0.563},
      {"T": "1.5 K", "t": 0, "P": 1.0}, {"T": "1.5 K", "t": 0.06, "P": 0.8}, {"T": "1.5 K", "t": 0.125, "P": 0.61},
      {"T": "1.5 K", "t": 0.845, "P": 0.591}, {"T": "1.5 K", "t": 1.79, "P": 0.562}, {"T": "1.5 K", "t": 2.93, "P": 0.537},
      {"T": "1.5 K", "t": 4.32, "P": 0.509},
      {"T": "2.2 K", "t": 0, "P": 1.0}, {"T": "2.2 K", "t": 0.04, "P": 0.78}, {"T": "2.2 K", "t": 0.07, "P": 0.62},
      {"T": "2.2 K", "t": 0.087, "P": 0.595}, {"T": "2.2 K", "t": 0.2, "P": 0.578}, {"T": "2.2 K", "t": 0.466, "P": 0.558},
      {"T": "2.2 K", "t": 1.03, "P": 0.546}, {"T": "2.2 K", "t": 2.17, "P": 0.517}, {"T": "2.2 K", "t": 3.3, "P": 0.496},
      {"T": "2.2 K", "t": 4.32, "P": 0.471}
    ]
  },
  "spacing": 27,
  "center": true,
  "resolve": {"scale": {"color": "independent", "shape": "independent", "size": "independent"}},
  "vconcat": [
    {
      "width": 700,
      "height": 325,
      "title": {"text": "a)", "anchor": "end", "frame": "group", "offset": -18, "dx": -8, "fontSize": 34},
      "resolve": {"axis": {"x": "independent", "y": "independent"}},
      "layer": [
        {
          "data": {"name": "a_fit"},
          "mark": {"type": "line", "color": "#2d5290", "strokeWidth": 2.5, "clip": true},
          "encoding": {
            "x": {"field": "t", "type": "quantitative", "scale": {"domain": [0, 4.49], "nice": false, "zero": false},
                  "axis": {"orient": "top", "values": [0, 1, 2, 3, 4], "labels": false, "title": null}},
            "y": {"field": "P", "type": "quantitative", "scale": {"domain": [0, 1.045], "nice": false, "zero": false},
                  "axis": {"orient": "right", "values": [0, 0.1, 0.2, 0.3, 0.4, 0.5, 0.6, 0.7, 0.8, 0.9, 1.0], "labels": false, "title": null}}
          }
        },
        {
          "data": {"name": "a_pts"},
          "transform": [{"filter": "datum.series == 'T=20.4 K'"}],
          "mark": {"type": "errorbar", "thickness": 2, "color": "#2d5290"},
          "encoding": {
            "x": {"field": "t", "type": "quantitative", "scale": {"domain": [0, 4.49], "nice": false, "zero": false}, "axis": null},
            "y": {"field": "P", "type": "quantitative", "scale": {"domain": [0, 1.045], "nice": false, "zero": false},
                  "axis": {"orient": "right", "offset": 22, "domain": true, "domainOpacity": 0, "ticks": false, "labels": false, "title": null}},
            "yError": {"field": "err"}
          }
        },
        {
          "data": {"name": "a_pts"},
          "transform": [{"filter": "datum.series == 'T=8.0 K'"}],
          "mark": {"type": "errorbar", "thickness": 2, "color": "#ad7436"},
          "encoding": {
            "x": {"field": "t", "type": "quantitative", "scale": {"domain": [0, 4.49], "nice": false, "zero": false}, "axis": null},
            "y": {"field": "P", "type": "quantitative", "scale": {"domain": [0, 1.045], "nice": false, "zero": false}, "axis": null},
            "yError": {"field": "err"}
          }
        },
        {
          "data": {"name": "a_pts"},
          "transform": [{"filter": "datum.series == 'T=1.5 K'"}],
          "mark": {"type": "errorbar", "thickness": 2, "color": "#000000"},
          "encoding": {
            "x": {"field": "t", "type": "quantitative", "scale": {"domain": [0, 4.49], "nice": false, "zero": false}, "axis": null},
            "y": {"field": "P", "type": "quantitative", "scale": {"domain": [0, 1.045], "nice": false, "zero": false}, "axis": null},
            "yError": {"field": "err"}
          }
        },
        {
          "data": {"name": "a_pts"},
          "mark": {"type": "point", "filled": true, "opacity": 1, "strokeWidth": 0},
          "encoding": {
            "x": {"field": "t", "type": "quantitative", "scale": {"domain": [0, 4.49], "nice": false, "zero": false},
                  "axis": {"orient": "bottom", "values": [0, 1, 2, 3, 4], "format": "d", "title": "Time t (μs)", "titlePadding": 2,
                           "titleX": 325, "labelFontSize": 29, "titleFontSize": 34, "labelPadding": 18}},
            "y": {"field": "P", "type": "quantitative", "scale": {"domain": [0, 1.045], "nice": false, "zero": false},
                  "axis": {"orient": "left", "values": [0, 0.1, 0.2, 0.3, 0.4, 0.5, 0.6, 0.7, 0.8, 0.9, 1.0],
                           "labelExpr": "round(datum.value*10) % 2 == 0 ? format(datum.value, '.1f') : ''",
                           "title": "Muon spin polarization P(t)", "titlePadding": 20,
                           "labelFontSize": 29, "titleFontSize": 34, "labelPadding": 23}},
            "color": {"field": "series", "type": "nominal",
                      "scale": {"domain": ["T=20.4 K", "T=8.0 K", "T=1.5 K"], "range": ["#2d5290", "#ad7436", "#000000"]},
                      "legend": {"title": "ZF x=0", "orient": "none", "legendX": 411, "legendY": 19,
                                 "symbolOffset": 21, "labelOffset": 30, "rowPadding": 8, "titlePadding": 8, "symbolSize": 70}},
            "shape": {"field": "series", "type": "nominal",
                      "scale": {"domain": ["T=20.4 K", "T=8.0 K", "T=1.5 K"], "range": ["triangle-up", "circle", "circle"]},
                      "legend": {"title": "ZF x=0", "orient": "none", "legendX": 411, "legendY": 19,
                                 "symbolOffset": 21, "labelOffset": 30, "rowPadding": 8, "titlePadding": 8, "symbolSize": 70}},
            "size": {"field": "series", "type": "nominal",
                     "scale": {"domain": ["T=20.4 K", "T=8.0 K", "T=1.5 K"], "range": [120, 85, 85]}, "legend": null}
          }
        }
      ]
    },
    {
      "spacing": 53,
      "hconcat": [
        {
          "width": 375,
          "height": 498,
          "title": {"text": "b)", "anchor": "start", "frame": "group", "offset": 6, "dx": 15, "fontSize": 34},
          "resolve": {"axis": {"x": "independent", "y": "independent"}},
          "layer": [
            {
              "data": {"name": "b_pts"},
              "mark": {"type": "point", "filled": true, "opacity": 1, "color": "black", "size": 75, "strokeWidth": 0, "clip": true},
              "encoding": {
                "x": {"field": "t", "type": "quantitative", "scale": {"domain": [0, 0.5], "nice": false, "zero": false},
                      "axis": {"orient": "bottom", "values": [0, 0.125, 0.25, 0.375, 0.5],
                               "labelExpr": "round(datum.value*8) % 2 == 0 ? format(datum.value, '.2f') : ''",
                               "title": "Time t (μs)", "titlePadding": 6, "titleX": 176,
                               "labelFontSize": 32, "titleFontSize": 35, "labelPadding": 27}},
                "y": {"field": "P", "type": "quantitative", "scale": {"domain": [0.4, 1.02], "nice": false, "zero": false},
                      "axis": {"orient": "left", "values": [0.4, 0.5, 0.6, 0.7, 0.8, 0.9, 1.0],
                               "labelExpr": "round(datum.value*10) % 2 == 0 ? format(datum.value, '.1f') : ''",
                               "title": "Muon spin polarization P(t)", "titlePadding": 16,
                               "labelFontSize": 32, "titleFontSize": 35, "labelPadding": 30}}
              }
            },
            {
              "data": {"name": "b_fit"},
              "transform": [{"filter": "datum.model == 'dashed'"}],
              "mark": {"type": "line", "color": "#8c8c8c", "strokeWidth": 2.5, "strokeDash": [12, 8], "clip": true},
              "encoding": {
                "x": {"field": "t", "type": "quantitative", "scale": {"domain": [0, 0.5], "nice": false, "zero": false}, "axis": null},
                "y": {"field": "P", "type": "quantitative", "scale": {"domain": [0.4, 1.02], "nice": false, "zero": false}, "axis": null}
              }
            },
            {
              "data": {"name": "b_fit"},
              "transform": [{"filter": "datum.model == 'solid'"}],
              "mark": {"type": "line", "color": "#8c8c8c", "strokeWidth": 2.5, "clip": true},
              "encoding": {
                "x": {"field": "t", "type": "quantitative", "scale": {"domain": [0, 0.5], "nice": false, "zero": false},
                      "axis": {"orient": "top", "values": [0, 0.125, 0.25, 0.375, 0.5], "labels": false, "title": null}},
                "y": {"field": "P", "type": "quantitative", "scale": {"domain": [0.4, 1.02], "nice": false, "zero": false},
                      "axis": {"orient": "right", "values": [0.4, 0.5, 0.6, 0.7, 0.8, 0.9, 1.0], "labels": false, "title": null}}
              }
            },
            {
              "data": {"name": "b_note"},
              "mark": {"type": "text", "fontSize": 34.5, "align": "center", "baseline": "middle", "color": "black"},
              "encoding": {
                "x": {"field": "t", "type": "quantitative", "scale": {"domain": [0, 0.5], "nice": false, "zero": false}, "axis": null},
                "y": {"field": "P", "type": "quantitative", "scale": {"domain": [0.4, 1.02], "nice": false, "zero": false}, "axis": null},
                "text": {"field": "label"}
              }
            }
          ]
        },
        {
          "width": 380,
          "height": 495,
          "title": {"text": "c)", "anchor": "end", "frame": "group", "offset": 9, "dx": -14, "fontSize": 34},
          "resolve": {"axis": {"x": "independent", "y": "independent"}},
          "layer": [
            {
              "data": {"name": "c_pts"},
              "mark": {"type": "errorbar", "thickness": 2},
              "encoding": {
                "x": {"field": "t", "type": "quantitative", "scale": {"domain": [0, 4.318], "nice": false, "zero": false}, "axis": null},
                "y": {"field": "P", "type": "quantitative", "scale": {"domain": [0.4037, 1.0148], "nice": false, "zero": false}, "axis": null},
                "yError": {"field": "err"},
                "color": {"field": "T", "type": "nominal",
                          "scale": {"domain": ["19.8 K", "12.2 K", "10.9 K", "10.0 K", "8.8 K", "8.0 K", "1.5 K", "2.2 K"],
                                    "range": ["#27497f", "#e84ce8", "#ee1c1c", "#3a67d6", "#3cb34a", "#a8702c", "#000000", "#8a2fc8"]},
                          "legend": null}
              }
            },
            {
              "data": {"name": "c_pts"},
              "mark": {"type": "point", "filled": true, "opacity": 1, "size": 85, "strokeWidth": 0, "clip": true},
              "encoding": {
                "x": {"field": "t", "type": "quantitative", "scale": {"domain": [0, 4.318], "nice": false, "zero": false},
                      "axis": {"orient": "bottom", "values": [0, 1, 2, 3, 4],
                               "labelExpr": "datum.value % 2 == 0 ? format(datum.value, 'd') : ''",
                               "title": "Time t (μs)", "titlePadding": 6, "titleX": 220,
                               "labelFontSize": 32, "titleFontSize": 35, "labelPadding": 27}},
                "y": {"field": "P", "type": "quantitative", "scale": {"domain": [0.4037, 1.0148], "nice": false, "zero": false},
                      "axis": {"orient": "left", "values": [0.5, 0.6, 0.7, 0.8, 0.9, 1.0], "labels": false, "title": null}},
                "color": {"field": "T", "type": "nominal",
                          "scale": {"domain": ["19.8 K", "12.2 K", "10.9 K", "10.0 K", "8.8 K", "8.0 K", "1.5 K", "2.2 K"],
                                    "range": ["#27497f", "#e84ce8", "#ee1c1c", "#3a67d6", "#3cb34a", "#a8702c", "#000000", "#8a2fc8"]},
                          "legend": null}
              }
            },
            {
              "data": {"name": "c_fit"},
              "mark": {"type": "line", "strokeWidth": 2.2, "clip": true},
              "encoding": {
                "x": {"field": "t", "type": "quantitative", "scale": {"domain": [0, 4.318], "nice": false, "zero": false},
                      "axis": {"orient": "top", "values": [0, 1, 2, 3, 4], "labels": false, "title": null}},
                "y": {"field": "P", "type": "quantitative", "scale": {"domain": [0.4037, 1.0148], "nice": false, "zero": false},
                      "axis": {"orient": "right", "values": [0.5, 0.6, 0.7, 0.8, 0.9, 1.0], "labels": false, "title": null}},
                "color": {"field": "T", "type": "nominal",
                          "scale": {"domain": ["19.8 K", "12.2 K", "10.9 K", "10.0 K", "8.8 K", "8.0 K", "1.5 K", "2.2 K"],
                                    "range": ["#27497f", "#e84ce8", "#ee1c1c", "#3a67d6", "#3cb34a", "#a8702c", "#000000", "#8a2fc8"]},
                          "legend": null}
              }
            },
            {
              "data": {"name": "c_note"},
              "mark": {"type": "text", "fontSize": 34.5, "align": "center", "baseline": "middle", "color": "black"},
              "encoding": {
                "x": {"field": "t", "type": "quantitative", "scale": {"domain": [0, 4.318], "nice": false, "zero": false}, "axis": null},
                "y": {"field": "P", "type": "quantitative", "scale": {"domain": [0.4037, 1.0148], "nice": false, "zero": false},
                      "axis": {"orient": "right", "values": [0.983, 0.94, 0.857, 0.747, 0.638, 0.557, 0.506, 0.462],
                               "ticks": false, "labelAlign": "right", "labelPadding": 108, "labelOverlap": false, "labelFontSize": 32.5,
                               "labelExpr": "indexof([0.983, 0.94, 0.857, 0.747, 0.638, 0.557, 0.506, 0.462], datum.value) >= 0 ? ['19.8 K', '12.2 K', '10.9 K', '10.0 K', '8.8 K', '8.0 K', '1.5 K', '2.2 K'][indexof([0.983, 0.94, 0.857, 0.747, 0.638, 0.557, 0.506, 0.462], datum.value)] : ''",
                               "title": null}},
                "text": {"field": "label"}
              }
            }
          ]
        }
      ]
    }
  ],
  "config": {
    "font": "Liberation Sans",
    "view": {"stroke": "black", "strokeWidth": 2.5},
    "axis": {
      "domain": false, "grid": false,
      "tickColor": "black", "tickWidth": 2.5, "tickSize": -9,
      "labelColor": "black", "labelFontSize": 28, "labelPadding": 20,
      "labelFlush": false, "labelOverlap": false, "labelBound": false,
      "titleColor": "black", "titleFontSize": 34, "titleFontWeight": "normal"
    },
    "legend": {
      "titleFontSize": 30, "titleFontWeight": "normal", "titleColor": "black",
      "labelFontSize": 30, "labelColor": "black", "padding": 0
    },
    "title": {"fontSize": 34, "fontWeight": "normal", "color": "black"}
  }
}
